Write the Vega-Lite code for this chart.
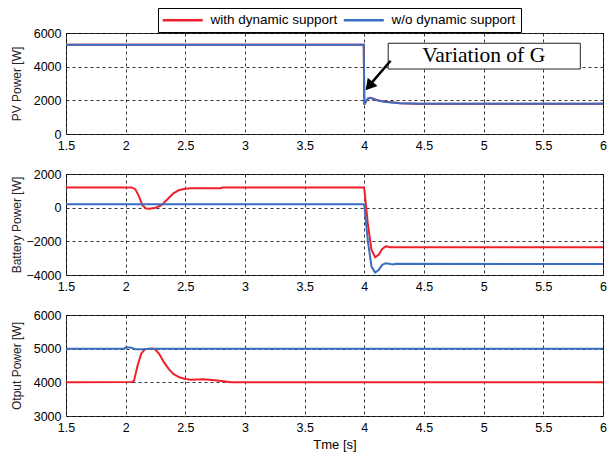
{
  "$schema": "https://vega.github.io/schema/vega-lite/v6.json",
  "background": "white",
  "padding": {"left": 9, "top": 7, "right": 2, "bottom": 4},
  "bounds": "flush",
  "spacing": 40,
  "config": {
    "view": {"stroke": "#333", "strokeWidth": 1},
    "axis": {
      "domain": false,
      "ticks": false,
      "grid": true,
      "gridColor": "#000",
      "gridDash": [3, 3],
      "gridWidth": 0.8,
      "gridOpacity": 1,
      "labelFont": "Liberation Sans",
      "labelFontSize": 12.5,
      "labelColor": "#000",
      "labelPadding": 5,
      "titleFont": "Liberation Sans",
      "titleFontSize": 12,
      "titleFontWeight": "normal",
      "titleColor": "#222"
    },
    "legend": {
      "labelFont": "Liberation Sans",
      "labelFontSize": 13.5,
      "labelColor": "#000"
    }
  },
  "datasets": {
    "pv": [
      {"t": 1.5, "p": 5300, "s": "with dynamic support"},
      {"t": 3.995, "p": 5300, "s": "with dynamic support"},
      {"t": 4.0, "p": 1750, "s": "with dynamic support"},
      {"t": 4.01, "p": 1900, "s": "with dynamic support"},
      {"t": 4.03, "p": 2100, "s": "with dynamic support"},
      {"t": 4.05, "p": 2150, "s": "with dynamic support"},
      {"t": 4.08, "p": 2080, "s": "with dynamic support"},
      {"t": 4.12, "p": 1990, "s": "with dynamic support"},
      {"t": 4.18, "p": 1910, "s": "with dynamic support"},
      {"t": 4.25, "p": 1870, "s": "with dynamic support"},
      {"t": 4.3, "p": 1830, "s": "with dynamic support"},
      {"t": 4.45, "p": 1800, "s": "with dynamic support"},
      {"t": 6.0, "p": 1800, "s": "with dynamic support"},
      {"t": 1.5, "p": 5300, "s": "w/o dynamic support"},
      {"t": 3.995, "p": 5300, "s": "w/o dynamic support"},
      {"t": 4.0, "p": 1750, "s": "w/o dynamic support"},
      {"t": 4.01, "p": 1900, "s": "w/o dynamic support"},
      {"t": 4.03, "p": 2100, "s": "w/o dynamic support"},
      {"t": 4.05, "p": 2150, "s": "w/o dynamic support"},
      {"t": 4.08, "p": 2070, "s": "w/o dynamic support"},
      {"t": 4.12, "p": 1970, "s": "w/o dynamic support"},
      {"t": 4.18, "p": 1900, "s": "w/o dynamic support"},
      {"t": 4.25, "p": 1860, "s": "w/o dynamic support"},
      {"t": 4.3, "p": 1820, "s": "w/o dynamic support"},
      {"t": 4.45, "p": 1800, "s": "w/o dynamic support"},
      {"t": 6.0, "p": 1800, "s": "w/o dynamic support"}
    ],
    "bat": [
      {"t": 1.5, "p": 1200, "s": "with dynamic support"},
      {"t": 2.05, "p": 1200, "s": "with dynamic support"},
      {"t": 2.08, "p": 1100, "s": "with dynamic support"},
      {"t": 2.11, "p": 700, "s": "with dynamic support"},
      {"t": 2.14, "p": 150, "s": "with dynamic support"},
      {"t": 2.17, "p": -50, "s": "with dynamic support"},
      {"t": 2.2, "p": -60, "s": "with dynamic support"},
      {"t": 2.25, "p": 0, "s": "with dynamic support"},
      {"t": 2.3, "p": 150, "s": "with dynamic support"},
      {"t": 2.35, "p": 500, "s": "with dynamic support"},
      {"t": 2.4, "p": 850, "s": "with dynamic support"},
      {"t": 2.45, "p": 1050, "s": "with dynamic support"},
      {"t": 2.5, "p": 1120, "s": "with dynamic support"},
      {"t": 2.55, "p": 1150, "s": "with dynamic support"},
      {"t": 2.8, "p": 1150, "s": "with dynamic support"},
      {"t": 2.81, "p": 1200, "s": "with dynamic support"},
      {"t": 3.995, "p": 1200, "s": "with dynamic support"},
      {"t": 4.0, "p": 1100, "s": "with dynamic support"},
      {"t": 4.03, "p": -1000, "s": "with dynamic support"},
      {"t": 4.06, "p": -2500, "s": "with dynamic support"},
      {"t": 4.09, "p": -2950, "s": "with dynamic support"},
      {"t": 4.12, "p": -2800, "s": "with dynamic support"},
      {"t": 4.15, "p": -2450, "s": "with dynamic support"},
      {"t": 4.18, "p": -2300, "s": "with dynamic support"},
      {"t": 4.22, "p": -2350, "s": "with dynamic support"},
      {"t": 6.0, "p": -2350, "s": "with dynamic support"},
      {"t": 1.5, "p": 200, "s": "w/o dynamic support"},
      {"t": 3.995, "p": 200, "s": "w/o dynamic support"},
      {"t": 4.0, "p": 100, "s": "w/o dynamic support"},
      {"t": 4.03, "p": -2000, "s": "w/o dynamic support"},
      {"t": 4.06, "p": -3500, "s": "w/o dynamic support"},
      {"t": 4.09, "p": -3850, "s": "w/o dynamic support"},
      {"t": 4.12, "p": -3700, "s": "w/o dynamic support"},
      {"t": 4.15, "p": -3400, "s": "w/o dynamic support"},
      {"t": 4.18, "p": -3300, "s": "w/o dynamic support"},
      {"t": 4.22, "p": -3350, "s": "w/o dynamic support"},
      {"t": 4.25, "p": -3380, "s": "w/o dynamic support"},
      {"t": 4.26, "p": -3330, "s": "w/o dynamic support"},
      {"t": 6.0, "p": -3350, "s": "w/o dynamic support"}
    ],
    "out": [
      {"t": 1.5, "p": 4000, "s": "with dynamic support"},
      {"t": 2.05, "p": 4010, "s": "with dynamic support"},
      {"t": 2.07, "p": 4050, "s": "with dynamic support"},
      {"t": 2.1, "p": 4500, "s": "with dynamic support"},
      {"t": 2.13, "p": 4850, "s": "with dynamic support"},
      {"t": 2.16, "p": 4980, "s": "with dynamic support"},
      {"t": 2.2, "p": 5000, "s": "with dynamic support"},
      {"t": 2.24, "p": 5000, "s": "with dynamic support"},
      {"t": 2.28, "p": 4850, "s": "with dynamic support"},
      {"t": 2.32, "p": 4600, "s": "with dynamic support"},
      {"t": 2.36, "p": 4400, "s": "with dynamic support"},
      {"t": 2.4, "p": 4250, "s": "with dynamic support"},
      {"t": 2.45, "p": 4150, "s": "with dynamic support"},
      {"t": 2.5, "p": 4100, "s": "with dynamic support"},
      {"t": 2.55, "p": 4080, "s": "with dynamic support"},
      {"t": 2.65, "p": 4090, "s": "with dynamic support"},
      {"t": 2.75, "p": 4060, "s": "with dynamic support"},
      {"t": 2.82, "p": 4030, "s": "with dynamic support"},
      {"t": 2.88, "p": 4000, "s": "with dynamic support"},
      {"t": 6.0, "p": 4000, "s": "with dynamic support"},
      {"t": 1.5, "p": 5000, "s": "w/o dynamic support"},
      {"t": 1.99, "p": 5000, "s": "w/o dynamic support"},
      {"t": 2.0, "p": 5040, "s": "w/o dynamic support"},
      {"t": 2.05, "p": 5030, "s": "w/o dynamic support"},
      {"t": 2.08, "p": 4980, "s": "w/o dynamic support"},
      {"t": 2.15, "p": 4980, "s": "w/o dynamic support"},
      {"t": 2.2, "p": 5000, "s": "w/o dynamic support"},
      {"t": 6.0, "p": 5000, "s": "w/o dynamic support"}
    ],
    "box": [{"t": 4.2, "t2": 5.81, "p": 5390, "p2": 3860}],
    "label": [{"t": 5.0, "p": 4620, "text": "Variation of G"}],
    "arrow": [{"t": 4.22, "p": 4350, "t2": 4.05, "p2": 2950}],
    "head": [{"t": 4.04, "p": 2850}]
  },
  "vconcat": [
    {
      "width": 537,
      "height": 101,
      "encoding": {
        "x": {"field": "t", "type": "quantitative", "scale": {"domain": [1.5, 6], "nice": false},
              "axis": {"values": [1.5, 2, 2.5, 3, 3.5, 4, 4.5, 5, 5.5, 6], "format": "~g", "labelFlush": false, "title": null}},
        "y": {"field": "p", "type": "quantitative", "scale": {"domain": [0, 6000], "nice": false},
              "axis": {"values": [0, 2000, 4000, 6000], "format": "d", "title": "PV Power [W]", "titleX": -50, "titleY": 50.5, "titleAngle": 270, "titleAlign": "center", "titleBaseline": "middle"}}
      },
      "layer": [
        {
          "data": {"name": "pv"},
          "mark": {"type": "line", "strokeWidth": 2},
          "encoding": {
            "color": {"field": "s", "type": "nominal",
                      "scale": {"domain": ["with dynamic support", "w/o dynamic support"], "range": ["#f0202a", "#3a6ec0"]},
                      "legend": {"title": null, "orient": "none", "direction": "horizontal", "columns": 2, "legendX": 92, "legendY": -25,
                                 "symbolType": "M-4,0H4", "symbolSize": 100, "symbolStrokeWidth": 2.5, "symbolOffset": 13, "labelOffset": 21,
                                 "columnPadding": 0, "strokeColor": "#000", "fillColor": "#fff", "padding": 5}}
          }
        },
        {
          "data": {"name": "box"},
          "mark": {"type": "rect", "fill": "#fff", "stroke": "#222", "strokeWidth": 1},
          "encoding": {
            "x2": {"field": "t2"},
            "y2": {"field": "p2"}
          }
        },
        {
          "data": {"name": "label"},
          "mark": {"type": "text", "font": "Liberation Serif", "fontSize": 21.5, "color": "#000", "align": "center", "baseline": "middle"},
          "encoding": {
            "text": {"field": "text"}
          }
        },
        {
          "data": {"name": "arrow"},
          "mark": {"type": "rule", "color": "#000", "strokeWidth": 2.5},
          "encoding": {
            "x2": {"field": "t2"},
            "y2": {"field": "p2"}
          }
        },
        {
          "data": {"name": "head"},
          "mark": {"type": "point", "shape": "triangle-up", "filled": true, "color": "#000", "size": 160, "angle": 220, "opacity": 1},
          "encoding": {}
        }
      ]
    },
    {
      "width": 537,
      "height": 101,
      "data": {"name": "bat"},
      "mark": {"type": "line", "strokeWidth": 2},
      "encoding": {
        "x": {"field": "t", "type": "quantitative", "scale": {"domain": [1.5, 6], "nice": false},
              "axis": {"values": [1.5, 2, 2.5, 3, 3.5, 4, 4.5, 5, 5.5, 6], "format": "~g", "labelFlush": false, "title": null}},
        "y": {"field": "p", "type": "quantitative", "scale": {"domain": [-4000, 2000], "nice": false},
              "axis": {"values": [-4000, -2000, 0, 2000], "format": "d", "title": "Battery Power [W]", "titleX": -50, "titleY": 50.5, "titleAngle": 270, "titleAlign": "center", "titleBaseline": "middle"}},
        "color": {"field": "s", "type": "nominal"}
      }
    },
    {
      "width": 537,
      "height": 101,
      "data": {"name": "out"},
      "mark": {"type": "line", "strokeWidth": 2},
      "encoding": {
        "x": {"field": "t", "type": "quantitative", "scale": {"domain": [1.5, 6], "nice": false},
              "axis": {"values": [1.5, 2, 2.5, 3, 3.5, 4, 4.5, 5, 5.5, 6], "format": "~g", "labelFlush": false, "title": "Tme [s]", "titleFontSize": 13, "titleColor": "#000", "titlePadding": 5}},
        "y": {"field": "p", "type": "quantitative", "scale": {"domain": [3000, 6000], "nice": false},
              "axis": {"values": [3000, 4000, 5000, 6000], "format": "d", "title": "Otput Power [W]", "titleX": -50, "titleY": 50.5, "titleAngle": 270, "titleAlign": "center", "titleBaseline": "middle"}},
        "color": {"field": "s", "type": "nominal"}
      }
    }
  ]
}
